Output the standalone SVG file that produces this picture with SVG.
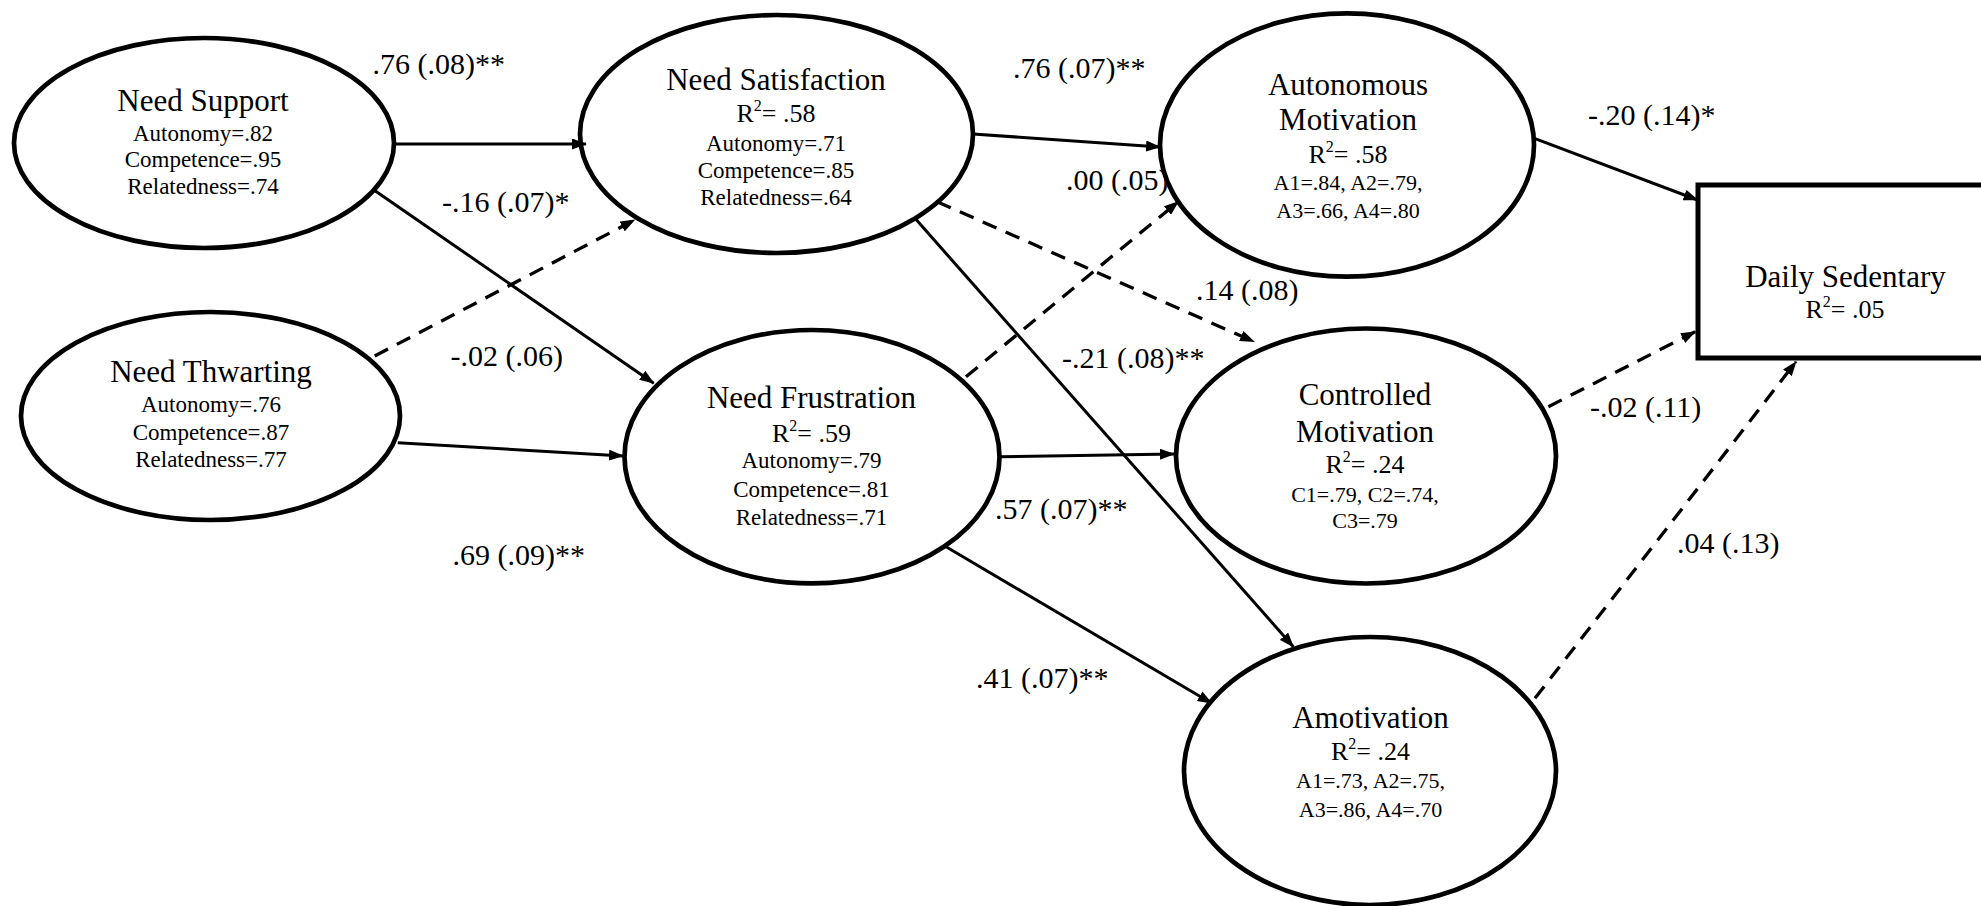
<svg xmlns="http://www.w3.org/2000/svg" width="1981" height="906" viewBox="0 0 1981 906">
<style>
text{font-family:"Liberation Serif","Times New Roman",serif;fill:#000}
.node{fill:#fff;stroke:#000;stroke-width:4.7}
.t{font-size:31px;text-anchor:middle}
.r{font-size:26px;text-anchor:middle}
.s{font-size:23px;text-anchor:middle}
.s2{font-size:22px;text-anchor:middle}
.lbl{font-size:30px}
.c{fill:none;stroke:#000;stroke-width:3;marker-end:url(#ah)}
.d{stroke-dasharray:15 10;stroke-width:3.3}
</style>
<defs>
<marker id="ah" viewBox="0 0 15 11" refX="14" refY="5.5" markerWidth="15" markerHeight="11" markerUnits="userSpaceOnUse" orient="auto">
<path d="M0,0 L15,5.5 L0,11 z" fill="#000"/>
</marker>
</defs>
<rect width="1981" height="906" fill="#fff"/>

<g id="edge-labels">
<text class="lbl" x="372.6" y="74">.76 (.08)**</text>
<text class="lbl" x="442" y="212">-.16 (.07)*</text>
<text class="lbl" x="450.5" y="366">-.02 (.06)</text>
<text class="lbl" x="452.6" y="565">.69 (.09)**</text>
<text class="lbl" x="1013" y="78">.76 (.07)**</text>
<text class="lbl" x="1066" y="190">.00 (.05)</text>
<text class="lbl" x="1196" y="300">.14 (.08)</text>
<text class="lbl" x="1062" y="368">-.21 (.08)**</text>
<text class="lbl" x="995" y="519">.57 (.07)**</text>
<text class="lbl" x="976" y="688">.41 (.07)**</text>
<text class="lbl" x="1588" y="125">-.20 (.14)*</text>
<text class="lbl" x="1590" y="417">-.02 (.11)</text>
<text class="lbl" x="1677" y="553">.04 (.13)</text>
</g>

<g id="need-support">
<ellipse class="node" cx="204" cy="143" rx="190" ry="105"/>
<text class="t" x="203" y="111">Need Support</text>
<text class="s" x="203" y="141">Autonomy=.82</text>
<text class="s" x="203" y="167">Competence=.95</text>
<text class="s" x="203" y="194">Relatedness=.74</text>
</g>

<g id="need-thwarting">
<ellipse class="node" cx="210.5" cy="416" rx="189.5" ry="104"/>
<text class="t" x="211" y="382">Need Thwarting</text>
<text class="s" x="211" y="412">Autonomy=.76</text>
<text class="s" x="211" y="440">Competence=.87</text>
<text class="s" x="211" y="467">Relatedness=.77</text>
</g>

<g id="need-satisfaction">
<ellipse class="node" cx="776.5" cy="134" rx="196.5" ry="119"/>
<text class="t" x="776" y="90">Need Satisfaction</text>
<text class="r" x="776" y="122">R<tspan font-size="16" dy="-11">2</tspan><tspan dy="11">= .58</tspan></text>
<text class="s" x="776" y="151">Autonomy=.71</text>
<text class="s" x="776" y="178">Competence=.85</text>
<text class="s" x="776" y="205">Relatedness=.64</text>
</g>

<g id="need-frustration">
<ellipse class="node" cx="812" cy="456.7" rx="187.5" ry="126.7"/>
<text class="t" x="811.5" y="408">Need Frustration</text>
<text class="r" x="811.5" y="442">R<tspan font-size="16" dy="-11">2</tspan><tspan dy="11">= .59</tspan></text>
<text class="s" x="811.5" y="468">Autonomy=.79</text>
<text class="s" x="811.5" y="497">Competence=.81</text>
<text class="s" x="811.5" y="525">Relatedness=.71</text>
</g>

<g id="autonomous-motivation">
<ellipse class="node" cx="1347" cy="145" rx="187" ry="131.7"/>
<text class="t" x="1348" y="95">Autonomous</text>
<text class="t" x="1348" y="130">Motivation</text>
<text class="r" x="1348" y="163">R<tspan font-size="16" dy="-11">2</tspan><tspan dy="11">= .58</tspan></text>
<text class="s2" x="1348" y="190">A1=.84, A2=.79,</text>
<text class="s2" x="1348" y="218">A3=.66, A4=.80</text>
</g>

<g id="controlled-motivation">
<ellipse class="node" cx="1366" cy="456" rx="190" ry="127.5"/>
<text class="t" x="1365" y="405">Controlled</text>
<text class="t" x="1365" y="442">Motivation</text>
<text class="r" x="1365" y="473">R<tspan font-size="16" dy="-11">2</tspan><tspan dy="11">= .24</tspan></text>
<text class="s2" x="1365" y="502">C1=.79, C2=.74,</text>
<text class="s2" x="1365" y="528">C3=.79</text>
</g>

<g id="amotivation">
<ellipse class="node" cx="1370" cy="771" rx="186" ry="134"/>
<text class="t" x="1370.5" y="728">Amotivation</text>
<text class="r" x="1370.5" y="760">R<tspan font-size="16" dy="-11">2</tspan><tspan dy="11">= .24</tspan></text>
<text class="s2" x="1370.5" y="788">A1=.73, A2=.75,</text>
<text class="s2" x="1370.5" y="817">A3=.86, A4=.70</text>
</g>

<g id="daily-sedentary">
<rect x="1698" y="185" width="400" height="173" fill="#fff" stroke="#000" stroke-width="5"/>
<text class="t" x="1845.5" y="287">Daily Sedentary</text>
<text class="r" x="1845" y="318">R<tspan font-size="16" dy="-11">2</tspan><tspan dy="11">= .05</tspan></text>
</g>

<g id="connectors">
<path class="c" d="M393,144 L586,144" stroke-width="3.5"/>
<path class="c" d="M375,190.7 L653.7,383.3"/>
<path class="c d" d="M374.7,356 L634.5,220"/>
<path class="c" d="M397.8,442.7 L623,456" stroke-width="3.5"/>
<path class="c" d="M973,134 L1160,147" stroke-width="3.5"/>
<path class="c d" d="M937,201.7 L1254,341.7"/>
<path class="c" d="M915,218.3 L1293.3,646.7"/>
<path class="c d" d="M966,376.7 L1178.3,201.7"/>
<path class="c" d="M999.7,456.7 L1174,454" stroke-width="3.5"/>
<path class="c" d="M946,546.7 L1211.7,703.3"/>
<path class="c" d="M1534.4,138.3 L1697.6,200"/>
<path class="c d" d="M1548.4,406.7 L1695.2,331.7"/>
<path class="c d" d="M1535,698.3 L1796,361.7"/>
</g>
</svg>
